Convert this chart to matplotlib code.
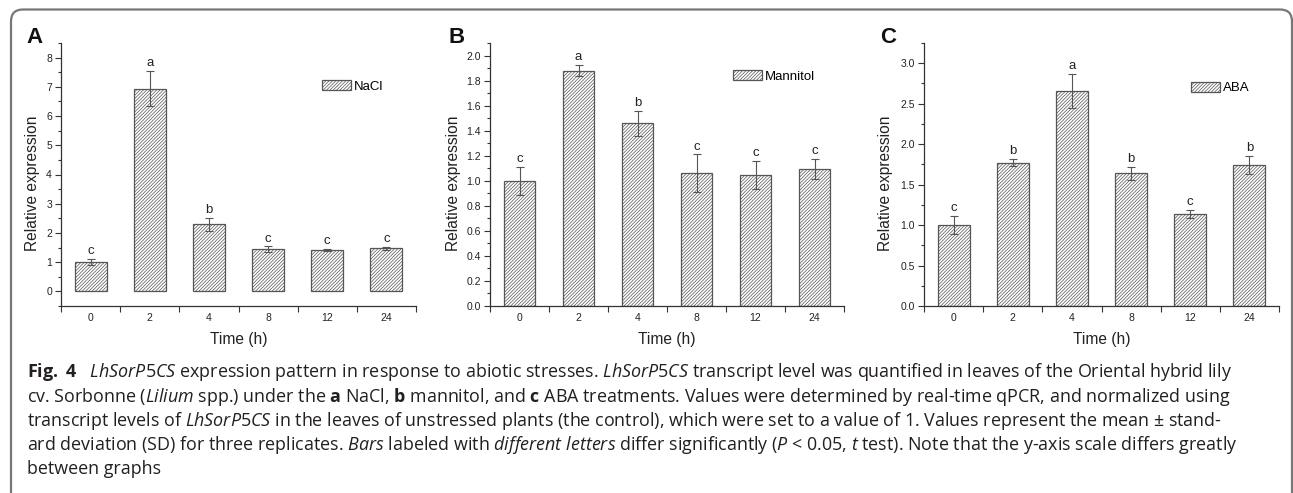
import matplotlib
matplotlib.use('Agg')
import matplotlib.pyplot as plt
import numpy as np
from matplotlib.patches import FancyBboxPatch
from matplotlib.ticker import MultipleLocator, FormatStrFormatter, FixedLocator

# data
times = ['0', '2', '4', '8', '12', '24']

nacl_mean = [1.00, 6.93, 2.29, 1.45, 1.41, 1.47]
nacl_sd = [0.10, 0.60, 0.22, 0.09, 0.04, 0.04]
nacl_letters = ['c', 'a', 'b', 'c', 'c', 'c']

mannitol_mean = [1.00, 1.88, 1.46, 1.06, 1.045, 1.097]
mannitol_sd = [0.11, 0.045, 0.10, 0.15, 0.11, 0.08]
mannitol_letters = ['c', 'a', 'b', 'c', 'c', 'c']

aba_mean = [1.00, 1.77, 2.66, 1.64, 1.14, 1.74]
aba_sd = [0.11, 0.045, 0.21, 0.08, 0.05, 0.115]
aba_letters = ['c', 'b', 'a', 'b', 'c', 'b']

caption_lines = [
    r'$\mathbf{Fig.\ 4}$   $\mathit{LhSorP5CS}$ expression pattern in response to abiotic stresses. $\mathit{LhSorP5CS}$ transcript level was quantified in leaves of the Oriental hybrid lily',
    r'cv. Sorbonne ($\mathit{Lilium}$ spp.) under the $\mathbf{a}$ NaCl, $\mathbf{b}$ mannitol, and $\mathbf{c}$ ABA treatments. Values were determined by real-time qPCR, and normalized using',
    r'transcript levels of $\mathit{LhSorP5CS}$ in the leaves of unstressed plants (the control), which were set to a value of 1. Values represent the mean ± stand-',
    r'ard deviation (SD) for three replicates. $\mathit{Bars}$ labeled with $\mathit{different\ letters}$ differ significantly ($\mathit{P}$ < 0.05, $\mathit{t}$ test). Note that the y-axis scale differs greatly',
    r'between graphs',
]

plt.rcParams['font.family'] = ['Liberation Sans', 'DejaVu Sans']
plt.rcParams['mathtext.fontset'] = 'custom'
plt.rcParams['mathtext.rm'] = 'Open Sans'
plt.rcParams['mathtext.it'] = 'Open Sans:italic'
plt.rcParams['mathtext.bf'] = 'Open Sans:bold'
plt.rcParams['hatch.linewidth'] = 0.5

W, H = 1293, 493
fig = plt.figure(figsize=(W / 100, H / 100), dpi=100)

def box(l, r, t, b):
    return [l / W, 1 - b / H, (r - l) / W, (b - t) / H]

panels = [
    ('A', 'NaCl', nacl_mean, nacl_sd, nacl_letters, box(61, 416, 43, 306), (-0.5, 8.5), 1, 0.5, '%d', 26, (0.735, 0.835), -0.059),
    ('B', 'Mannitol', mannitol_mean, mannitol_sd, mannitol_letters, box(490, 844, 43, 306), (0, 2.1), 0.2, 0.1, '%.1f', 449, (0.686, 0.873), -0.082),
    ('C', 'ABA', aba_mean, aba_sd, aba_letters, box(924, 1279, 43, 306), (0, 3.25), 0.5, 0.25, '%.1f', 880, (0.752, 0.829), -0.087),
]

dark = '#333333'
for tag, name, mean, sd, letters, pos, ylim, major, minor, fmt, tagx, legpos, ylab_x in panels:
    ax = fig.add_axes(pos)
    x = np.arange(len(times)) + 0.5
    ax.bar(x, mean, width=0.54, color='white', edgecolor='#555555',
           hatch='//////////', linewidth=0.9, label=name)
    ax.errorbar(x, mean, yerr=sd, fmt='none', ecolor='#555555',
                elinewidth=0.8, capsize=2.8, capthick=0.8)
    for xi, m, s, let in zip(x, mean, sd, letters):
        ax.annotate(let, (xi, m + s), xytext=(0, 3.5), textcoords='offset points',
                    ha='center', va='baseline', fontsize=9.5, color='#222222')
    ax.set_xlim(0, len(times))
    ax.set_ylim(*ylim)
    ax.xaxis.set_major_locator(FixedLocator(np.arange(len(times) + 1)))
    ax.xaxis.set_minor_locator(FixedLocator(x))
    ax.set_xticklabels([], minor=False)
    ax.set_xticklabels(times, minor=True)
    ax.yaxis.set_major_locator(MultipleLocator(major))
    ax.yaxis.set_minor_locator(MultipleLocator(minor))
    ax.yaxis.set_major_formatter(FormatStrFormatter(fmt))
    ax.tick_params(axis='x', which='major', length=4, width=0.8, color=dark, direction='out')
    ax.tick_params(axis='x', which='minor', length=0, pad=5, labelsize=7.5, labelcolor='#222222')
    ax.tick_params(axis='y', which='major', length=4, width=0.8, color=dark, pad=2.5,
                   labelsize=7.5, labelcolor='#222222')
    ax.tick_params(axis='y', which='minor', length=2.5, width=0.8, color=dark)
    for s in ['top', 'right']:
        ax.spines[s].set_visible(False)
    for s in ['left', 'bottom']:
        ax.spines[s].set_color(dark)
        ax.spines[s].set_linewidth(0.9)
    ax.set_ylabel('Relative expression', fontsize=11.2, color='#222222')
    ax.yaxis.set_label_coords(ylab_x, 0.468)
    ax.set_xlabel('Time (h)', fontsize=11.2, color='#222222')
    ax.xaxis.set_label_coords(0.5, -0.099)
    ax.legend(loc='center left', bbox_to_anchor=legpos, frameon=False, fontsize=9.5,
              handlelength=2.2, handleheight=0.83, handletextpad=0.25,
              borderpad=0, borderaxespad=0)
    fig.text(tagx / W, 1 - 43 / H, tag, fontsize=16, fontweight='bold',
             ha='left', va='baseline', color='#111111')

# rounded frame around the figure
frame = FancyBboxPatch((0.11, -0.5), 12.81, 4.835 + 0.5,
                       boxstyle='round,pad=0,rounding_size=0.12',
                       transform=fig.dpi_scale_trans, fill=False,
                       edgecolor='#777777', linewidth=1.6, clip_on=False)
fig.patches.append(frame)

baselines = [377.3, 401.5, 425.7, 449.9, 474.1]
for line, yb in zip(caption_lines, baselines):
    fig.text(27 / W, 1 - yb / H, line, fontsize=12.9, family='Open Sans',
             ha='left', va='baseline', color='#231f20')

fig.savefig('out.png', dpi=100)
